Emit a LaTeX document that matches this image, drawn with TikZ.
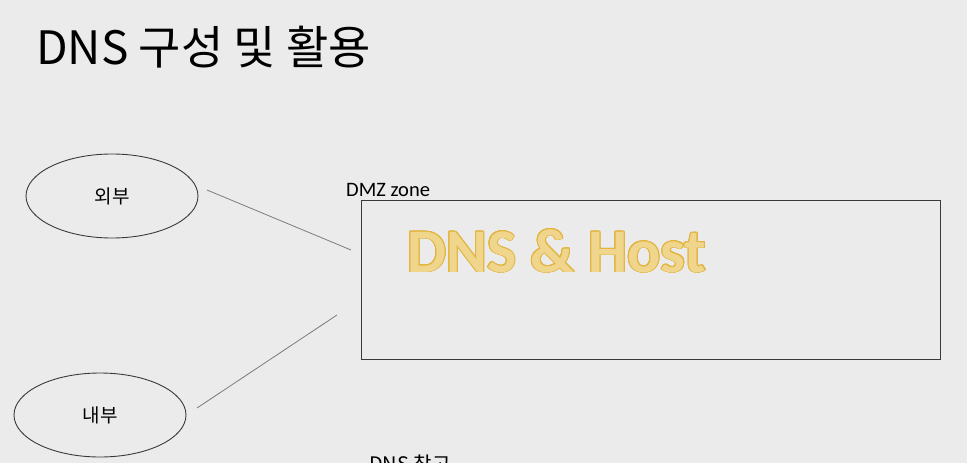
\documentclass[tikz,border=0pt]{standalone}
\usepackage{fontspec}
\usetikzlibrary{shapes.geometric}
\setmainfont{Carlito}
\newfontfamily\krfont{Noto Sans CJK KR}
\newfontfamily\carfont{Carlito}
\usepackage[copies]{contour}
\definecolor{bg}{HTML}{EBEBEB}
\definecolor{edge}{HTML}{3A3A3A}
\definecolor{wire}{HTML}{7A7A7A}
\definecolor{goldfill}{HTML}{F0D68C}
\definecolor{goldline}{HTML}{E2B540}
\begin{document}
\begin{tikzpicture}[x=1pt,y=-1pt,
  zone/.style={ellipse, draw=edge, line width=0.9pt, minimum width=172pt, minimum height=84pt, inner sep=0pt},
  wirestyle/.style={draw=wire, line width=0.8pt},
  lbl/.style={inner sep=0pt, anchor=base west},
  zonelbl/.style={font=\krfont\fontsize{19}{21}\selectfont}]
\useasboundingbox (0,0) rectangle (967,463);
\fill[bg] (0,0) rectangle (967,463);
\clip (0,0) rectangle (967,463);
\node[lbl] (title) at (36,64) {\krfont\fontsize{46}{50}\selectfont DNS 구성 및 활용};
\node[zone] (ext) at (112,196) {};
\node[zonelbl] (extlbl) at (ext.center) {외부};
\node[zone] (int) at (100,415) {};
\node[zonelbl] (intlbl) at (int.center) {내부};
\node[lbl] (dmzlbl) at (346,196) {\carfont\fontsize{20.5}{22}\selectfont DMZ zone};
\node[draw=edge, line width=1pt, minimum width=579pt, minimum height=159pt, inner sep=0pt, anchor=north west] (dmz) at (361,200) {};
\node[lbl] (host) at (407,272) {\contourlength{0.9pt}\contour{goldline}{\color{goldfill}\carfont\bfseries\fontsize{62}{66}\selectfont DNS \& Host}};
\coordinate (a1) at (207,190);
\coordinate (a2) at (351,250);
\coordinate (b1) at (197,408);
\coordinate (b2) at (337,315);
\draw[wirestyle] (a1) -- (a2);
\draw[wirestyle] (b1) -- (b2);
\node[lbl] (ref) at (369,471) {\krfont\fontsize{20}{22}\selectfont DNS 참고};
\end{tikzpicture}
\end{document}
